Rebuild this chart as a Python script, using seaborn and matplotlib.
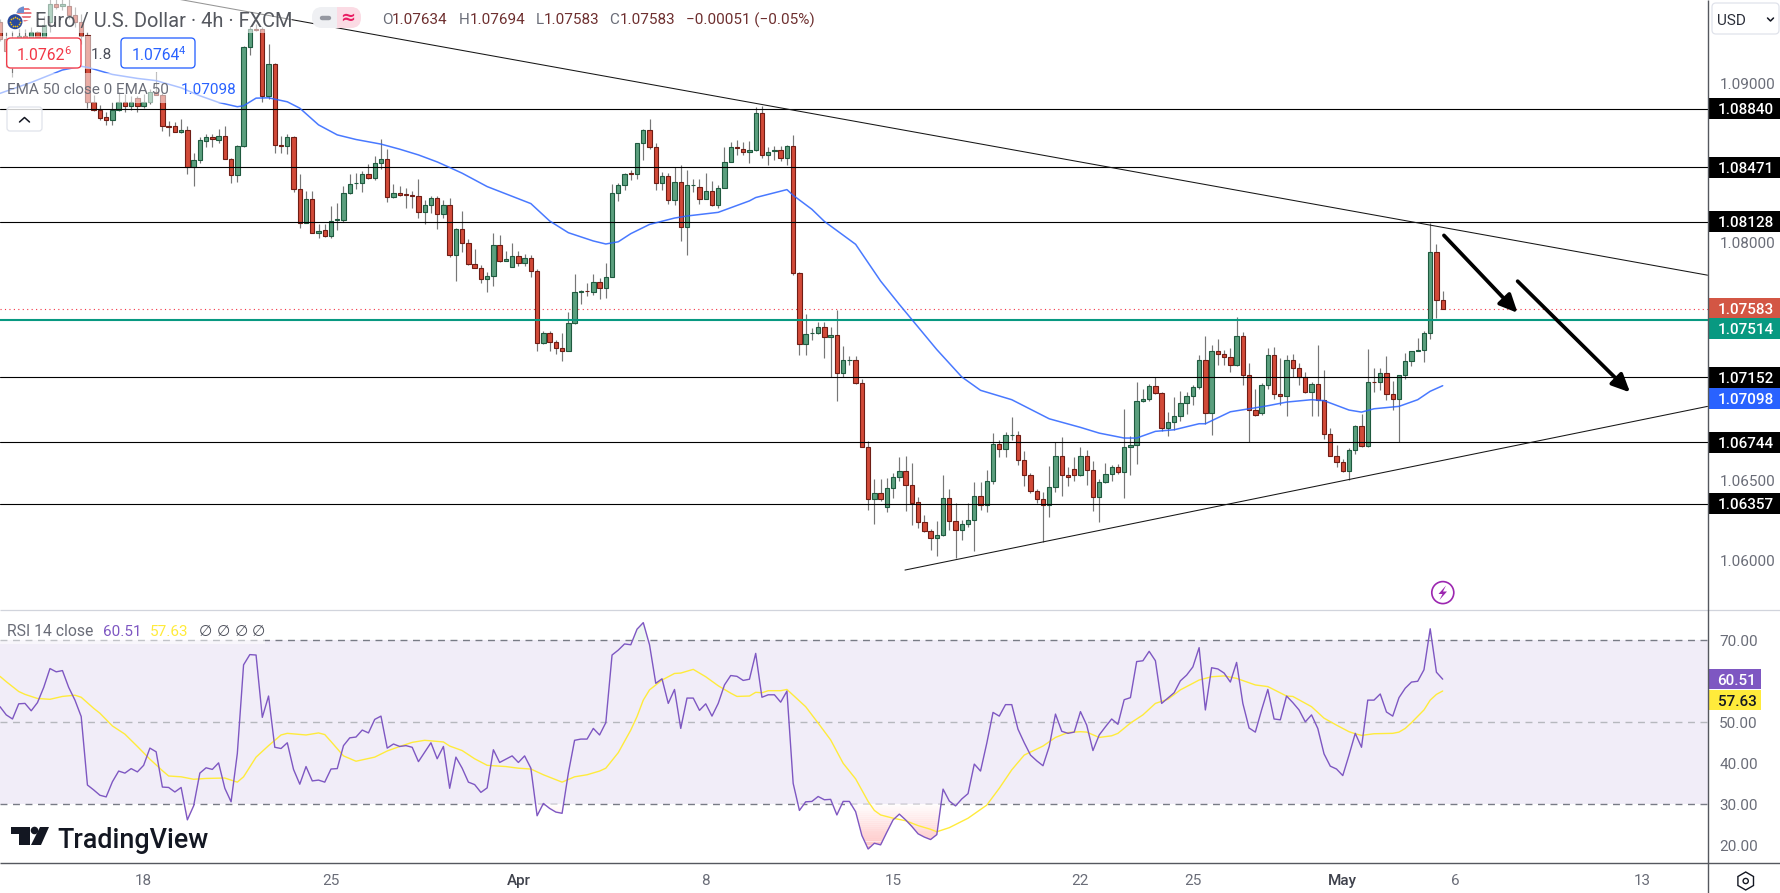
import numpy as np
import pandas as pd
import seaborn as sns
import matplotlib.pyplot as plt
from matplotlib.patches import Rectangle, FancyBboxPatch, Circle, Polygon, RegularPolygon

# EUR/USD 4h candles, prices in points (1e-5), one entry per bar
opens_pts = [
    109383, 109278, 109205, 109268, 109299, 109278, 109320, 109289, 109383, 109499,
    109484, 109488, 109429, 109383, 109303, 108879, 108833, 108787, 108770, 108833,
    108879, 108858, 108904, 108858, 108879, 108942, 108927, 108728, 108728, 108694,
    108707, 108476, 108518, 108638, 108659, 108644, 108671, 108526, 108425, 108606,
    109226, 109339, 109339, 108921, 109118, 108614, 108602, 108659, 108337, 108123,
    108270, 108058, 108079, 108041, 108140, 108142, 108312, 108371, 108375, 108432,
    108404, 108501, 108526, 108287, 108312, 108301, 108299, 108293, 108192, 108236,
    108280, 108180, 108236, 107921, 108085, 107997, 107865, 107840, 107768, 107787,
    107984, 107884, 107846, 107915, 107871, 107903, 107821, 107367, 107430, 107373,
    107336, 107317, 107493, 107686, 107695, 107688, 107751, 107714, 107783, 108312,
    108362, 108434, 108432, 108621, 108703, 108596, 108375, 108419, 108268, 108381,
    108098, 108360, 108348, 108274, 108325, 108236, 108344, 108507, 108598, 108589,
    108568, 108577, 108810, 108551, 108575, 108577, 108530, 108608, 107808, 107361,
    107428, 107430, 107468, 107405, 107417, 107178, 107258, 107260, 107115, 106712,
    106384, 106422, 106338, 106454, 106523, 106561, 106472, 106365, 106239, 106183,
    106139, 106157, 106391, 106250, 106189, 106227, 106252, 106403, 106346, 106498,
    106731, 106699, 106785, 106787, 106630, 106535, 106435, 106384, 106346, 106460,
    106655, 106535, 106573, 106535, 106655, 106567, 106397, 106491, 106542, 106586,
    106554, 106712, 106724, 107002, 107014, 107096, 107052, 106832, 106869, 106907,
    106989, 107033, 107090, 107260, 106926, 107317, 107298, 107279, 107228, 107411,
    107165, 106945, 106926, 107102, 107291, 107046, 107033, 107260, 107210, 107153,
    107058, 107109, 107008, 106794, 106655, 106617, 106561, 106693, 106844, 106718,
    107123, 107121, 107178, 107046, 107014, 107165, 107254, 107317, 107323, 107430,
    107940, 107634,
]
highs_pts = [
    109404, 109320, 109331, 109352, 109341, 109352, 109331, 109425, 109551, 109551,
    109551, 109551, 109478, 109436, 109320, 108925, 108862, 108816, 108879, 108942,
    108932, 108921, 108917, 108932, 108963, 109072, 108938, 108764, 108757, 108774,
    108732, 108564, 108659, 108682, 108682, 108715, 108732, 108532, 108614, 109236,
    109362, 109373, 109352, 109247, 109127, 108665, 108680, 108665, 108428, 108323,
    108323, 108112, 108112, 108226, 108245, 108354, 108428, 108438, 108449, 108491,
    108543, 108648, 108589, 108365, 108354, 108344, 108322, 108396, 108264, 108291,
    108291, 108264, 108280, 108092, 108194, 108022, 107955, 107854, 107812, 108056,
    108043, 107947, 107993, 107947, 107924, 107917, 107833, 107443, 107443, 107388,
    107430, 107564, 107798, 107699, 107741, 107798, 107777, 107867, 108365, 108375,
    108438, 108455, 108627, 108711, 108774, 108623, 108444, 108434, 108476, 108484,
    108455, 108396, 108396, 108438, 108383, 108362, 108596, 108631, 108640, 108631,
    108635, 108848, 108854, 108596, 108606, 108602, 108612, 108673, 107816, 107546,
    107462, 107497, 107501, 107468, 107573, 107350, 107287, 107287, 107142, 106750,
    106510, 106510, 106517, 106548, 106649, 106657, 106611, 106397, 106286, 106197,
    106248, 106535, 106447, 106359, 106254, 106359, 106493, 106493, 106569, 106800,
    106758, 106806, 106901, 106815, 106689, 106548, 106447, 106432, 106594, 106741,
    106775, 106586, 106649, 106712, 106695, 106626, 106510, 106611, 106598, 106607,
    106951, 106783, 107119, 107077, 107111, 107151, 107056, 106932, 107027, 107062,
    107056, 107104, 107293, 107409, 107356, 107392, 107325, 107336, 107531, 107438,
    107241, 107077, 107115, 107336, 107342, 107272, 107293, 107300, 107241, 107186,
    107121, 107354, 107199, 106832, 106726, 106638, 106706, 106853, 106922, 107329,
    107210, 107212, 107287, 107128, 107165, 107304, 107319, 107399, 107445, 108123,
    107991, 107694,
]
lows_pts = [
    109268, 109100, 109037, 109236, 109236, 109215, 109226, 109257, 109324, 109467,
    109457, 109404, 109352, 109247, 108841, 108827, 108770, 108736, 108736, 108827,
    108816, 108833, 108816, 108841, 108866, 108927, 108701, 108669, 108690, 108686,
    108428, 108354, 108501, 108596, 108596, 108627, 108522, 108375, 108379, 108596,
    109177, 109331, 108883, 108900, 108560, 108560, 108554, 108316, 108087, 108119,
    108056, 108024, 108033, 108024, 108075, 108127, 108302, 108333, 108316, 108396,
    108392, 108459, 108255, 108281, 108291, 108218, 108218, 108155, 108112, 108182,
    108081, 108155, 107907, 107756, 107938, 107856, 107835, 107741, 107686, 107728,
    107875, 107879, 107842, 107850, 107850, 107781, 107315, 107363, 107315, 107300,
    107252, 107315, 107483, 107611, 107665, 107667, 107646, 107651, 107779, 108260,
    108327, 108390, 108396, 108518, 108589, 108329, 108329, 108239, 108232, 108008,
    107919, 108316, 108239, 108270, 108228, 108215, 108339, 108505, 108547, 108551,
    108497, 108572, 108528, 108486, 108518, 108512, 108486, 107793, 107294, 107294,
    107384, 107426, 107273, 107153, 106999, 107151, 107231, 107111, 106710, 106317,
    106229, 106376, 106304, 106391, 106502, 106311, 106222, 106206, 106178, 106065,
    106029, 106153, 106191, 106015, 106128, 106208, 106061, 106317, 106304, 106481,
    106647, 106647, 106754, 106601, 106470, 106422, 106363, 106118, 106275, 106432,
    106407, 106468, 106496, 106531, 106475, 106311, 106241, 106485, 106502, 106542,
    106391, 106538, 106607, 106993, 106999, 107046, 106811, 106783, 106817, 106874,
    106922, 106974, 107077, 106859, 106785, 107230, 107230, 107186, 107224, 107105,
    106743, 106905, 106911, 107079, 107014, 106979, 106905, 107153, 107105, 107052,
    106905, 106905, 106766, 106653, 106584, 106554, 106504, 106670, 106712, 106712,
    107056, 107073, 107006, 106947, 106743, 107142, 107224, 107317, 107249, 107394,
    107525, 107583,
]
closes_pts = [
    109278, 109205, 109268, 109299, 109278, 109320, 109289, 109366, 109499, 109482,
    109499, 109429, 109383, 109299, 108879, 108833, 108782, 108770, 108833, 108879,
    108858, 108879, 108858, 108879, 108942, 108927, 108728, 108726, 108696, 108707,
    108476, 108520, 108640, 108659, 108646, 108671, 108526, 108425, 108608, 109226,
    109339, 109337, 108921, 109118, 108614, 108602, 108659, 108337, 108123, 108270,
    108060, 108073, 108041, 108136, 108144, 108312, 108369, 108375, 108432, 108407,
    108501, 108526, 108287, 108312, 108299, 108297, 108291, 108192, 108236, 108280,
    108180, 108236, 107921, 108085, 107997, 107865, 107840, 107770, 107787, 107984,
    107884, 107896, 107915, 107871, 107903, 107821, 107367, 107430, 107373, 107336,
    107317, 107493, 107688, 107695, 107693, 107751, 107714, 107783, 108312, 108362,
    108432, 108430, 108621, 108703, 108596, 108375, 108419, 108268, 108381, 108098,
    108362, 108362, 108274, 108325, 108236, 108344, 108507, 108596, 108593, 108568,
    108577, 108810, 108551, 108570, 108579, 108530, 108608, 107808, 107361, 107424,
    107432, 107468, 107405, 107417, 107178, 107260, 107262, 107113, 106712, 106384,
    106422, 106384, 106454, 106523, 106561, 106472, 106361, 106239, 106183, 106139,
    106157, 106391, 106250, 106189, 106227, 106252, 106403, 106346, 106498, 106731,
    106699, 106787, 106790, 106630, 106535, 106435, 106384, 106346, 106460, 106655,
    106535, 106523, 106535, 106655, 106567, 106397, 106491, 106542, 106586, 106554,
    106712, 106724, 107002, 107014, 107096, 107052, 106832, 106869, 106907, 106989,
    107033, 107090, 107260, 106924, 107317, 107298, 107279, 107228, 107411, 107165,
    106945, 106911, 107102, 107291, 107046, 107033, 107260, 107210, 107153, 107058,
    107109, 107008, 106794, 106655, 106617, 106561, 106693, 106844, 106718, 107121,
    107119, 107178, 107046, 107014, 107165, 107254, 107317, 107323, 107430, 107940,
    107638, 107583,
]

# EMA 50, read at the bars where the curve bends
ema_bars = [0, 5, 10, 13, 14, 18, 22, 25, 29, 32, 35, 38, 39, 41, 43, 46, 48, 51, 54, 57,
            61, 64, 67, 70, 72, 74, 78, 85, 88, 91, 95, 97, 99, 101, 104, 108, 110, 115,
            120, 121, 126, 127, 130, 132, 137, 141, 144, 150, 154, 157, 162, 168, 173,
            176, 180, 182, 185, 188, 192, 193, 197, 200, 203, 206, 210, 212, 216, 218,
            220, 224, 227, 229, 231]
ema_pts = [108936, 109005, 109083, 109106, 109100, 109055, 109030, 109016, 108971, 108921,
           108879, 108852, 108858, 108906, 108908, 108883, 108843, 108738, 108675, 108646,
           108617, 108585, 108549, 108505, 108470, 108434, 108350, 108243, 108134, 108060,
           108008, 107989, 108003, 108054, 108112, 108152, 108165, 108188, 108260, 108281,
           108331, 108295, 108207, 108131, 107987, 107756, 107609, 107325, 107153, 107069,
           107010, 106890, 106836, 106800, 106769, 106769, 106811, 106821, 106859, 106859,
           106934, 106953, 106972, 106995, 107010, 107004, 106945, 106932, 106953, 106968,
           107010, 107063, 107098]

# RSI 14, one value per bar
rsi_values = [
    53.8, 51.8, 50.8, 54.5, 54.6, 52.8, 54.8, 58.5, 63.1, 62.3, 62.6, 58.5, 55.4, 51.4, 34.7, 33.5,
    32.2, 31.8, 35.5, 38.1, 37.6, 38.7, 37.9, 39.5, 43.7, 42.8, 34.2, 34.1, 33.0, 34.1, 26.2, 29.6,
    37.6, 38.9, 38.5, 40.1, 33.9, 30.6, 42.4, 64.0, 66.5, 66.4, 51.2, 56.4, 43.9, 43.6, 45.0, 38.5,
    34.9, 39.2, 35.7, 35.9, 35.4, 38.6, 38.7, 44.3, 46.2, 46.4, 48.1, 47.4, 50.7, 51.5, 43.7, 44.7,
    44.1, 44.3, 43.9, 40.4, 42.7, 45.0, 41.1, 44.1, 33.9, 41.5, 38.8, 35.4, 34.8, 32.9, 34.0, 43.3,
    40.2, 41.0, 41.8, 40.2, 41.8, 38.8, 27.2, 30.2, 29.0, 28.1, 27.8, 37.6, 45.6, 45.9, 45.9, 48.5,
    46.9, 49.9, 66.4, 67.6, 69.1, 68.9, 72.7, 74.3, 68.9, 59.5, 60.6, 54.6, 58.0, 48.5, 55.9, 55.9,
    52.9, 54.5, 51.5, 54.6, 59.1, 61.4, 61.2, 60.2, 60.5, 66.8, 56.1, 56.7, 56.7, 54.9, 57.6, 35.1,
    28.5, 30.6, 30.7, 31.9, 31.1, 31.2, 27.4, 30.7, 30.7, 28.2, 22.4, 19.1, 20.5, 20.1, 23.2, 26.2,
    27.6, 26.2, 24.6, 22.8, 22.0, 21.4, 22.6, 33.7, 30.8, 29.6, 31.3, 32.6, 39.8, 38.1, 44.9, 52.4,
    51.5, 54.3, 54.3, 48.3, 45.0, 42.0, 40.6, 39.4, 44.1, 52.0, 47.8, 47.3, 47.6, 52.6, 49.3, 43.1,
    46.9, 48.9, 50.8, 49.5, 55.5, 56.0, 64.8, 65.0, 67.3, 65.0, 54.6, 55.9, 57.2, 60.1, 61.5, 63.5,
    68.2, 53.0, 63.3, 63.0, 62.0, 59.8, 64.6, 54.6, 48.6, 47.6, 53.0, 58.0, 50.8, 50.6, 56.4, 54.8,
    53.0, 50.1, 51.8, 48.5, 42.3, 39.3, 38.6, 37.0, 42.0, 47.3, 43.9, 55.4, 55.4, 56.9, 52.5, 51.5,
    56.0, 58.3, 59.8, 60.0, 62.8, 72.8, 62.2, 60.51,
]

# RSI moving average, read at the bars where the curve bends
rsi_ma_bars = [0, 1, 2, 3, 4, 6, 8, 10, 12, 13, 15, 16, 18, 20, 22, 24, 26, 27, 29, 31, 33, 36, 38,
               39, 41, 43, 45, 46, 49, 51, 52, 53, 55, 57, 60, 62, 64, 66, 68, 71, 72, 74, 76, 78,
               81, 83, 85, 87, 90, 92, 94, 96, 97, 99, 101, 102, 103, 104, 106, 108, 109, 111, 113,
               115, 117, 118, 120, 121, 122, 123, 125, 126, 129, 131, 133, 135, 137, 139, 140, 141,
               143, 145, 147, 149, 150, 152, 155, 158, 160, 162, 164, 167, 169, 171, 173, 174, 176,
               178, 179, 181, 183, 185, 187, 189, 192, 194, 196, 198, 201, 203, 206, 207, 210, 212,
               214, 216, 217, 218, 220, 223, 224, 225, 226, 228, 229, 230, 231]
rsi_ma_values = [61.2, 59.9, 58.7, 57.5, 56.8, 55.8, 55.6, 56.3, 56.6, 56.1, 53.4, 52.2, 49.1, 47.1,
                 44.1, 41.0, 38.2, 36.9, 36.7, 36.1, 36.3, 36.4, 35.4, 36.7, 41.5, 44.3, 46.9, 47.3,
                 46.9, 47.4, 47.0, 45.3, 41.8, 40.5, 41.5, 43.0, 44.1, 45.1, 45.6, 45.2, 44.2, 43.1,
                 41.1, 39.5, 39.2, 38.8, 38.6, 37.2, 35.4, 36.7, 37.2, 38.1, 38.8, 42.6, 48.1, 51.4,
                 55.4, 57.9, 60.3, 61.9, 62.0, 62.9, 61.1, 58.9, 57.1, 56.3, 56.4, 57.3, 57.2, 57.7,
                 57.7, 58.0, 53.8, 49.8, 45.7, 40.0, 36.2, 30.7, 28.5, 27.4, 26.6, 26.0, 24.8, 23.9,
                 23.3, 24.3, 26.6, 29.8, 33.9, 38.4, 42.0, 44.2, 46.3, 47.5, 47.7, 47.6, 46.3, 46.7,
                 47.3, 49.8, 51.8, 54.6, 55.6, 57.9, 60.3, 61.1, 61.3, 60.7, 59.1, 58.7, 56.4, 56.3,
                 53.8, 51.0, 49.3, 47.7, 47.2, 46.8, 47.2, 47.3, 47.6, 48.5, 49.9, 53.0, 55.4, 56.8,
                 57.63]

# drawn levels and tags
black_levels = [1.08840, 1.08471, 1.08128, 1.07152, 1.06744, 1.06357]
green_level = 1.07514
last_price = 1.07583
ema_last = 1.07098
rsi_last = 60.51
rsi_ma_last = 57.63

# trendlines and arrows as (bar, price)
upper_trend = [(28.3, 1.09530), (273.4, 1.07793)]
lower_trend = [(144.9, 1.05939), (273.4, 1.06968)]
arrows = [((231.2, 1.08043), (243.0, 1.07556)), ((243.0, 1.07755), (261.0, 1.07056))]

price_ticks = [1.06, 1.065, 1.08, 1.09]
rsi_ticks = [20, 30, 40, 50, 70]
date_bars = [23, 53, 83, 113, 143, 173, 191, 215, 233, 263]
date_labels = ['18', '25', 'Apr', '8', '15', '22', '25', 'May', '6', '13']

GREY = '#6a6d78'
UP, UP_EDGE = '#5b9f7e', '#1f5a3f'
DOWN, DOWN_EDGE = '#d24a38', '#6f1d15'
TEAL = '#089981'
RED = '#f23645'
BLUE = '#2962ff'
PURPLE = '#7e57c2'
YELLOW = '#ffeb3b'
FS = 11

sns.set_theme(style='white')
plt.rcParams['font.family'] = ['Roboto', 'DejaVu Sans']

W, H = 1780, 893
RIGHT, SPLIT, BOTTOM = 1707.5, 609.5, 863.0
fig = plt.figure(figsize=(W / 100, H / 100), dpi=100, facecolor='white')
ax = fig.add_axes([0, 1 - SPLIT / H, RIGHT / W, SPLIT / H])
ax_rsi = fig.add_axes([0, 1 - BOTTOM / H, RIGHT / W, (BOTTOM - SPLIT) / H])
over = fig.add_axes([0, 0, 1, 1])
over.set_xlim(0, W)
over.set_ylim(H, 0)
over.axis('off')
over.patch.set_alpha(0)

# candles
df = pd.DataFrame({'open': opens_pts, 'high': highs_pts, 'low': lows_pts, 'close': closes_pts}) / 1e5
df['bar'] = np.arange(len(df))
up = df['close'] >= df['open']
bottoms = df[['open', 'close']].min(axis=1)
heights = (df['close'] - df['open']).abs()
ax.vlines(df['bar'], df['low'], df['high'], color='#777777', lw=0.85, zorder=2)
ax.bar(df['bar'], heights, bottom=bottoms, width=0.7,
       color=np.where(up, UP, DOWN), edgecolor=np.where(up, UP_EDGE, DOWN_EDGE), linewidth=0.8, zorder=3)

# levels
for level in black_levels:
    ax.axhline(level, color='black', lw=0.8, zorder=4)
ax.axhline(green_level, color=TEAL, lw=1.5, zorder=4)
ax.axhline(last_price, color=RED, lw=0.8, ls=(0, (1, 3)), zorder=1)

ema_df = pd.DataFrame({'bar': ema_bars, 'ema': np.array(ema_pts) / 1e5})
sns.lineplot(data=ema_df, x='bar', y='ema', ax=ax, color=BLUE, lw=1.1, alpha=0.85, estimator=None, zorder=5)

for trend in (upper_trend, lower_trend):
    ax.plot(*zip(*trend), color='#161616', lw=0.75, zorder=5)
for start, end in arrows:
    ax.annotate('', xy=end, xytext=start, zorder=6,
                arrowprops=dict(arrowstyle='-|>,head_length=0.9,head_width=0.42', color='black', lw=2.7,
                                mutation_scale=12, shrinkA=0, shrinkB=0))

ax.set_xlim(0, 273.4)
ax.set_ylim(1.05691, 1.09523)
ax.yaxis.tick_right()
ax.set_yticks(price_ticks, [f'{t:.5f}' for t in price_ticks])
ax.set_xticks([])
ax.set_xlabel('')
ax.set_ylabel('')

# RSI panel
rsi_df = pd.DataFrame({'bar': np.arange(len(rsi_values)), 'rsi': rsi_values})
ma_df = pd.DataFrame({'bar': rsi_ma_bars, 'ma': rsi_ma_values})
ax_rsi.axhspan(30, 70, color=PURPLE, alpha=0.105, lw=0, zorder=0)
ax_rsi.axhline(70, color='#787b86', lw=1.0, ls=(0, (5, 4)), zorder=1)
ax_rsi.axhline(30, color='#787b86', lw=1.0, ls=(0, (5, 4)), zorder=1)
ax_rsi.axhline(50, color='#b6b8be', lw=1.0, ls=(0, (5, 4)), zorder=1)

# gradient between the RSI line and the 30 / 70 bands
fine_x = np.linspace(0, len(rsi_values) - 1, 2311)
fine_rsi = np.interp(fine_x, rsi_df['bar'], rsi_df['rsi'])
band_edges = np.linspace(30, 18, 25)
for i in range(len(band_edges) - 1):
    hi, lo = band_edges[i], band_edges[i + 1]
    t = (i + 1) / (len(band_edges) - 1)
    shade = (1.0, 1 - 0.26 * t, 1 - 0.26 * t)
    ax_rsi.fill_between(fine_x, np.clip(fine_rsi, lo, hi), hi, where=fine_rsi < hi, color=shade, lw=0, zorder=1)
ax_rsi.fill_between(fine_x, fine_rsi, 70, where=fine_rsi > 70, color='#eef7f2', lw=0, zorder=1)

sns.lineplot(data=ma_df, x='bar', y='ma', ax=ax_rsi, color=YELLOW, lw=1.0, estimator=None, zorder=3)
sns.lineplot(data=rsi_df, x='bar', y='rsi', ax=ax_rsi, color=PURPLE, lw=1.0, estimator=None, zorder=4)

ax_rsi.set_xlim(0, 273.4)
ax_rsi.set_ylim(15.68, 77.5)
ax_rsi.yaxis.tick_right()
ax_rsi.set_yticks(rsi_ticks, [f'{t:.2f}' for t in rsi_ticks])
ax_rsi.set_xticks(date_bars, date_labels)
ax_rsi.set_xlabel('')
ax_rsi.set_ylabel('')

for a in (ax, ax_rsi):
    sns.despine(ax=a, left=True, right=True, top=True, bottom=True)
    a.tick_params(axis='y', right=True, length=0, pad=8.5, labelsize=FS, labelcolor=GREY)
    a.tick_params(axis='x', length=0, pad=8, labelsize=FS, labelcolor=GREY)
for lab in ax_rsi.get_xticklabels():
    if lab.get_text() in ('Apr', 'May'):
        lab.set_fontweight('medium')
        lab.set_color('#3f424c')


def price_tag(axis, value, text, color, height, width=72.0, center=None, text_color='white'):
    # tag on the price scale, width given in pixels
    c = value if center is None else center
    w = width / RIGHT
    axis.add_patch(Rectangle((1, c - height / 2), w, height, transform=axis.get_yaxis_transform(),
                             clip_on=False, color=color, lw=0, zorder=10))
    axis.text(1 + (10.5 if width > 60 else 10) / RIGHT, c, text, transform=axis.get_yaxis_transform(), color=text_color,
              ha='left', va='center_baseline', fontsize=FS, fontweight='medium', zorder=11)


tag_h = 0.00132
for level in black_levels:
    price_tag(ax, level, f'{level:.5f}', 'black', tag_h)
price_tag(ax, last_price, f'{last_price:.5f}', '#d35644', tag_h)
price_tag(ax, green_level, f'{green_level:.5f}', TEAL, tag_h, center=1.07455)
price_tag(ax, ema_last, f'{ema_last:.5f}', BLUE, tag_h, center=1.07020)
price_tag(ax_rsi, rsi_last, f'{rsi_last:.2f}', PURPLE, 5.0, width=53.6)
price_tag(ax_rsi, rsi_ma_last, f'{rsi_ma_last:.2f}', YELLOW, 5.0, width=53.6, center=55.4, text_color='#131722')

# frame lines of the panes
over.hlines(SPLIT, 0, W, color='#d1d4dc', lw=0.9)
over.hlines(BOTTOM, 0, W, color='#55585f', lw=1.0)
over.vlines(RIGHT, 0, H, color='#55585f', lw=1.0)

# legend rows are washed out with white
for x0, y0, x1, y1 in [(0, 0, 292, 33), (0, 36, 198, 69), (0, 73, 240, 103), (0, 618, 265, 644)]:
    over.add_patch(Rectangle((x0, y0), x1 - x0, y1 - y0, color='white', alpha=0.55, lw=0, zorder=2))

# symbol icons
us = Circle((24, 14), 7.5, color='white', ec='none', zorder=3)
over.add_patch(us)
for yy in (9, 13, 17, 20.5):
    line = over.hlines(yy, 16, 32, color='#e5616c', lw=1.2, zorder=3)
    line.set_clip_path(us)
canton = Rectangle((16, 6), 8, 7, color='#6c8fd0', lw=0, zorder=3)
over.add_patch(canton)
canton.set_clip_path(us)
over.add_patch(Circle((15, 21.7), 8.6, color='white', lw=0, zorder=4))
over.add_patch(Circle((15, 21.7), 7.5, color='#2a4a9c', lw=0, zorder=4))
ring = np.linspace(0, 2 * np.pi, 12, endpoint=False)
over.scatter(15 + 4.6 * np.cos(ring), 21.7 + 4.6 * np.sin(ring), s=1.5, color='#f5c518', lw=0, zorder=5)

text_opts = dict(va='center_baseline', ha='left', zorder=6)
over.text(35, 20, 'Euro / U.S. Dollar · 4h · FXCM', color='#55585f', fontsize=14.4, **text_opts)

# minimise / compare pill
over.add_patch(FancyBboxPatch((312, 7), 25, 21, boxstyle='round,pad=0,rounding_size=10', color='#eff0f3', lw=0, zorder=3))
over.add_patch(Rectangle((327, 7), 10, 21, color='#eff0f3', lw=0, zorder=3))
over.add_patch(FancyBboxPatch((337, 7), 24, 21, boxstyle='round,pad=0,rounding_size=10', color='#fbdbe4', lw=0, zorder=3))
over.add_patch(Rectangle((337, 7), 10, 21, color='#fbdbe4', lw=0, zorder=3))
over.plot([322, 329], [18, 18], color='#9598a1', lw=3.2, solid_capstyle='round', zorder=4)
over.text(348, 18, '≈', color='#e91e63', fontsize=13, fontweight='bold', ha='center', va='center', zorder=6,
          family=['DejaVu Sans'])

# OHLC row
ohlc_dark = '#6e2f2f'
for x, letter, x_val, val in [(382, 'O', 392, '1.07634'), (459, 'H', 470, '1.07694'),
                              (535.5, 'L', 544, '1.07583'), (609, 'C', 620, '1.07583')]:
    over.text(x, 19, letter, color=GREY, fontsize=FS, **text_opts)
    over.text(x_val, 19, val, color=ohlc_dark, fontsize=FS, **text_opts)
over.text(685.7, 19, '−0.00051 (−0.05%)', color=ohlc_dark, fontsize=FS, **text_opts)

# bid / ask boxes
for x0, x1, col, val, sup in [(6.7, 81, RED, '1.0762', '6'), (121, 195, BLUE, '1.0764', '4')]:
    over.add_patch(FancyBboxPatch((x0, 38), x1 - x0, 30, boxstyle='round,pad=0,rounding_size=4',
                                  fc='white', ec=col, lw=0.95, zorder=5))
    over.text(x0 + 10.3, 53.5, val, color=col, fontsize=11.3, **text_opts)
    over.text(x0 + 57.5, 50.5, sup, color=col, fontsize=8, **text_opts)
over.text(101, 53.5, '1.8', color='#4c4f5a', fontsize=FS, ha='center', va='center_baseline', zorder=6)

over.text(7, 88, 'EMA 50 close 0 EMA 50', color=GREY, fontsize=FS, **text_opts)
over.text(181, 88, '1.07098', color=BLUE, fontsize=FS, **text_opts)
over.add_patch(FancyBboxPatch((7, 107), 35, 24, boxstyle='round,pad=0,rounding_size=3',
                              fc=(1, 1, 1, 0.8), ec='#e0e3eb', lw=0.9, zorder=5))
over.plot([19.5, 24.5, 29.5], [122, 117.5, 122], color='#131722', lw=1.1, zorder=6)

# RSI legend row
over.text(7, 630, 'RSI 14 close', color=GREY, fontsize=11.3, **text_opts)
over.text(102.6, 630, '60.51', color=PURPLE, fontsize=FS, **text_opts)
over.text(150, 630, '57.63', color=YELLOW, fontsize=FS, **text_opts)
for x in (199, 217, 235, 252):
    over.text(x, 630, '∅', color='#4c4f5a', fontsize=11, family=['DejaVu Sans'], **text_opts)

# currency button
over.add_patch(FancyBboxPatch((1712, 3), 67, 31, boxstyle='round,pad=0,rounding_size=4',
                              fc='white', ec='#e0e3eb', lw=0.9, zorder=5))
over.text(1717, 19.5, 'USD', color='#2a2e39', fontsize=FS, **text_opts)
over.plot([1767.5, 1770.5, 1773.5], [18, 21, 18], color='#131722', lw=1.1, zorder=6)

# lightning marker
over.add_patch(Circle((1442.8, 592.6), 11, fc='white', ec='#9c27b0', lw=1.2, zorder=5))
over.add_patch(Polygon([(1446, 585.5), (1438.5, 594), (1442.5, 594), (1439.5, 600), (1447, 591.5), (1443, 591.5)],
                       closed=True, color='#9c27b0', lw=0, zorder=6))

# settings icon
over.add_patch(RegularPolygon((1745.7, 881), 6, radius=9, fc='none', ec='#131722', lw=1.0, zorder=6))
over.add_patch(Circle((1745.7, 881), 2.6, fc='none', ec='#131722', lw=1.0, zorder=6))

# TradingView logo
logo = '#131722'
over.add_patch(Polygon([(11, 827), (30, 827), (30, 845), (19, 845), (19, 834), (11, 834)], closed=True, color=logo, lw=0, zorder=6))
over.add_patch(Circle((34.5, 830.5), 3.8, color=logo, lw=0, zorder=6))
over.add_patch(Polygon([(40, 827), (49, 827), (41, 845), (31, 845)], closed=True, color=logo, lw=0, zorder=6))
over.text(57.5, 837, 'TradingView', color=logo, fontsize=19.4, fontweight='medium', **text_opts)

fig.savefig('out.png', dpi=100)
